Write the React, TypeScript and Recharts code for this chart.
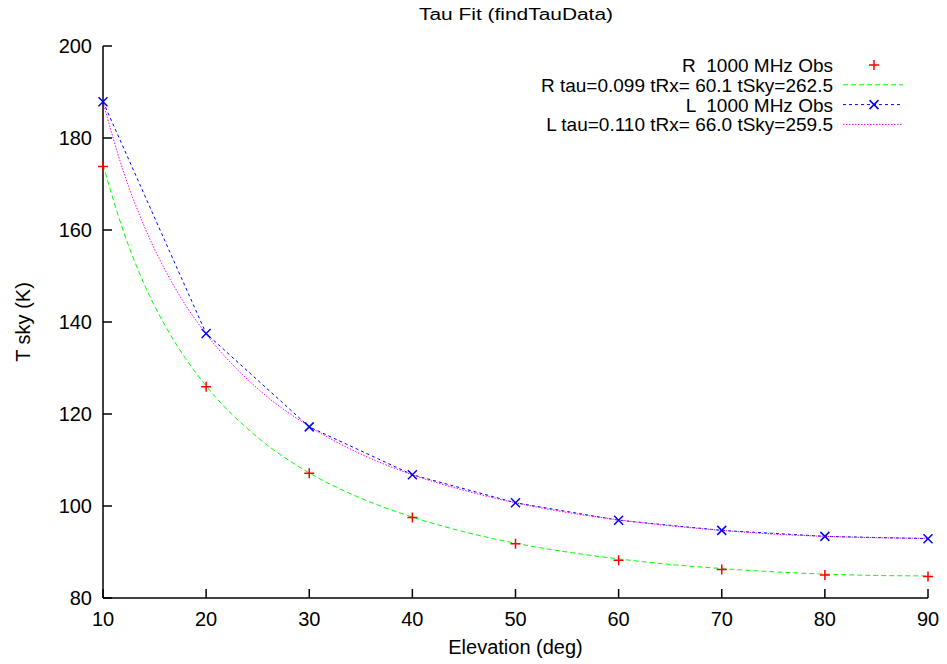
import React from 'react';
import { ComposedChart, Line, Scatter, XAxis, YAxis, Legend } from 'recharts';

// Observed elevations (deg)
const elevations = [10, 20, 30, 40, 50, 60, 70, 80, 90];
// R 1000 MHz observed sky temperature (K)
const rObs = [173.8, 125.9, 107.1, 97.5, 91.8, 88.2, 86.2, 85.0, 84.7];
// L 1000 MHz observed sky temperature (K)
const lObs = [187.9, 137.5, 117.2, 106.8, 100.7, 96.9, 94.7, 93.4, 92.9];

// Fit curves
const fitElevations = [10, 12, 14, 16, 18, 20, 25, 30, 35, 40, 45, 50, 55, 60, 65, 70, 75, 80, 85, 90];
const rFit = [174.2, 159.6, 148.2, 139.3, 132.1, 126.1, 114.9, 107.2, 101.7, 97.6, 94.4, 91.9, 90.0, 88.5, 87.3, 86.4, 85.7, 85.2, 84.9, 84.8];
const lFit = [187.8, 172.6, 160.8, 151.4, 143.7, 137.4, 125.5, 117.3, 111.3, 106.8, 103.4, 100.7, 98.6, 97.0, 95.7, 94.7, 93.9, 93.4, 93.1, 93.0];

const xTicks = [10, 20, 30, 40, 50, 60, 70, 80, 90];
const yTicks = [80, 100, 120, 140, 160, 180, 200];

const titleText = 'Tau Fit (findTauData)';
const xLabel = 'Elevation (deg)';
const yLabel = 'T sky (K)';
const legendLabels = [
  'R  1000 MHz Obs',
  'R tau=0.099 tRx= 60.1 tSky=262.5',
  'L  1000 MHz Obs',
  'L tau=0.110 tRx= 66.0 tSky=259.5',
];

const rObsData = elevations.map((el, i) => ({ el, t: rObs[i] }));
const lObsData = elevations.map((el, i) => ({ el, t: lObs[i] }));
const rFitData = fitElevations.map((el, i) => ({ el, t: rFit[i] }));
const lFitData = fitElevations.map((el, i) => ({ el, t: lFit[i] }));

const FONT = '"Liberation Sans", Arial, Helvetica, sans-serif';
const FS = 20;
const LEGEND_FS = 19;
const RED = '#ff0000';
const GREEN = '#00ff00';
const BLUE = '#0000ff';
const MAGENTA = '#ff00ff';

const plusPath = (cx: number, cy: number) => `M${cx - 5},${cy}h10M${cx},${cy - 5}v10`;
const crossPath = (cx: number, cy: number) =>
  `M${cx - 4.5},${cy - 4.5}l9,9M${cx - 4.5},${cy + 4.5}l9,-9`;

const PlusShape = (props: any) => {
  const { cx, cy } = props;
  if (cx == null || cy == null) return <g />;
  return <path d={plusPath(cx, cy)} stroke={RED} strokeWidth={1.5} fill="none" />;
};

const CrossDot = (props: any) => {
  const { cx, cy, index } = props;
  if (cx == null || cy == null) return <g key={`c${index}`} />;
  return <path key={`c${index}`} d={crossPath(cx, cy)} stroke={BLUE} strokeWidth={1.5} fill="none" />;
};

const LegendBox = () => {
  const textRight = 833;
  const sx1 = 843;
  const sx2 = 903;
  const mx = 874;
  return (
    <svg width={947} height={140} style={{ display: 'block', overflow: 'visible' }}>
      {legendLabels.map((label, i) => {
        const cy = 65 + i * 19.8;
        return (
          <g key={i}>
            <text
              x={textRight}
              y={cy + 6.9}
              textAnchor="end"
              fontSize={LEGEND_FS}
              fontFamily={FONT}
              fill="#000"
              style={{ whiteSpace: 'pre' }}
            >
              {label}
            </text>
            {i === 0 && <path d={plusPath(mx, cy)} stroke={RED} strokeWidth={1.5} fill="none" />}
            {i === 1 && (
              <line x1={sx1} x2={sx2} y1={cy} y2={cy} stroke={GREEN} strokeWidth={1} strokeDasharray="5 3" />
            )}
            {i === 2 && (
              <g>
                <line x1={sx1} x2={sx2} y1={cy} y2={cy} stroke={BLUE} strokeWidth={1} strokeDasharray="3 3" />
                <path d={crossPath(mx, cy)} stroke={BLUE} strokeWidth={1.5} fill="none" />
              </g>
            )}
            {i === 3 && (
              <line x1={sx1} x2={sx2} y1={cy} y2={cy} stroke={MAGENTA} strokeWidth={1} strokeDasharray="1.5 1.5" />
            )}
          </g>
        );
      })}
    </svg>
  );
};

const tickStyle = { fontSize: FS, fill: '#000', fontFamily: FONT };
const axisLineStyle = { stroke: '#000', strokeWidth: 1.5 };

export default function App() {
  return (
    <div style={{ position: 'absolute', left: 0, top: 0, width: 947, height: 664, background: '#fff' }}>
      <svg
        width={947}
        height={40}
        style={{ position: 'absolute', left: 0, top: 0, pointerEvents: 'none' }}
      >
        <text
          x={516}
          y={20}
          textAnchor="middle"
          fontSize={16}
          fontFamily={FONT}
          fill="#000"
          textLength={194}
          lengthAdjust="spacingAndGlyphs"
        >
          {titleText}
        </text>
      </svg>
      <ComposedChart width={947} height={664} margin={{ top: 46, right: 19, bottom: 0, left: 0 }}>
        <XAxis
          xAxisId="b"
          dataKey="el"
          type="number"
          domain={[10, 90]}
          ticks={xTicks}
          interval={0}
          height={66}
          tickSize={-9}
          tickMargin={23}
          axisLine={axisLineStyle}
          tickLine={axisLineStyle}
          tick={tickStyle}
          label={{
            value: xLabel,
            position: 'insideBottom',
            offset: 10,
            fontSize: FS,
            fill: '#000',
            fontFamily: FONT,
          }}
        />
        <XAxis
          xAxisId="t"
          orientation="top"
          dataKey="el"
          type="number"
          domain={[10, 90]}
          ticks={xTicks}
          interval={0}
          height={0}
          tickSize={-9}
          axisLine={axisLineStyle}
          tickLine={axisLineStyle}
          tick={false}
        />
        <YAxis
          yAxisId="l"
          type="number"
          domain={[80, 200]}
          ticks={yTicks}
          interval={0}
          width={103}
          tickSize={-9}
          tickMargin={20}
          axisLine={axisLineStyle}
          tickLine={axisLineStyle}
          tick={tickStyle}
          label={{
            value: yLabel,
            angle: -90,
            position: 'insideLeft',
            offset: 23,
            fontSize: FS,
            fill: '#000',
            fontFamily: FONT,
            style: { textAnchor: 'middle' },
          }}
        />
        <YAxis
          yAxisId="r"
          orientation="right"
          type="number"
          domain={[80, 200]}
          ticks={yTicks}
          interval={0}
          width={0}
          tickSize={-9}
          axisLine={axisLineStyle}
          tickLine={axisLineStyle}
          tick={false}
        />
        <Legend
          layout="horizontal"
          verticalAlign="middle"
          align="center"
          wrapperStyle={{ position: 'absolute', left: 0, top: 0, width: 947, height: 140, pointerEvents: 'none' }}
          content={() => <LegendBox />}
        />
        <Scatter
          xAxisId="b"
          yAxisId="l"
          data={rObsData}
          dataKey="t"
          shape={PlusShape}
          isAnimationActive={false}
        />
        <Line
          xAxisId="b"
          yAxisId="l"
          data={rFitData}
          dataKey="t"
          type="monotone"
          stroke={GREEN}
          strokeWidth={1}
          strokeDasharray="5 3"
          dot={false}
          activeDot={false}
          isAnimationActive={false}
        />
        <Line
          xAxisId="b"
          yAxisId="l"
          data={lObsData}
          dataKey="t"
          type="linear"
          stroke={BLUE}
          strokeWidth={1}
          strokeDasharray="3 3"
          dot={CrossDot}
          activeDot={false}
          isAnimationActive={false}
        />
        <Line
          xAxisId="b"
          yAxisId="l"
          data={lFitData}
          dataKey="t"
          type="monotone"
          stroke={MAGENTA}
          strokeWidth={1}
          strokeDasharray="1.5 1.5"
          dot={false}
          activeDot={false}
          isAnimationActive={false}
        />
      </ComposedChart>
    </div>
  );
}
